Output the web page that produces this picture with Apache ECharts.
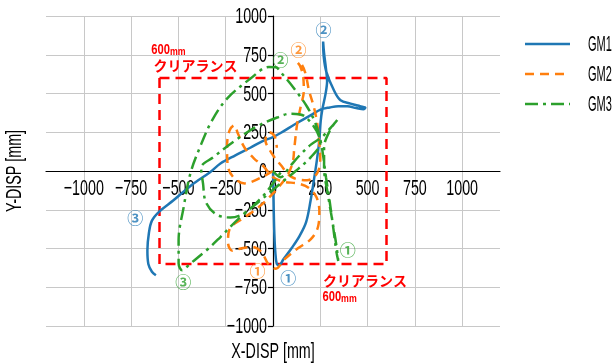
<!DOCTYPE html>
<html>
<head>
<meta charset="utf-8">
<script src="https://cdn.jsdelivr.net/npm/echarts@6/dist/echarts.min.js"></script>
<style>
  html, body { margin: 0; padding: 0; background: #fff; }
  #chart { width: 614px; height: 364px; }
</style>
</head>
<body>
<div id="chart"></div>
<script>
// Orbit of the top displacement under three ground motions, with the 600 mm clearance box.
const seriesNames = ['GM1', 'GM2', 'GM3'];

const gm1X = [0, 2, 4, 7, 12, 20, 32, 55, 100, 140, 175, 199, 216, 232, 245, 252, 260, 278, 286, 280, 270, 265, 268, 282, 322, 357, 410, 460, 488, 478, 440, 393, 345, 300, 251, 200, 120, 40, 0, -60, -120, -199, -278, -331, -430, -526, -600, -640, -656, -664, -659, -640, -619];
const gm1Y = [0, -120, -260, -400, -520, -600, -608, -570, -495, -420, -330, -189, -60, 70, 200, 320, 392, 499, 580, 660, 760, 835, 740, 640, 521, 456, 435, 418, 409, 398, 406, 417, 418, 410, 396, 360, 305, 245, 219, 190, 150, 101, 48, -6, -90, -189, -260, -320, -400, -512, -600, -650, -673];

const gm2X = [0, -60, -150, -210, -240, -243, -230, -205, -185, -150, -100, -50, 0, 60, 130, 190, 230, 245, 238, 200, 130, 60, 15, -25, -60, -110, -170, -215, -238, -228, -150, -75, -20, 31, 80, 105, 112, 128, 146, 163, 158, 142, 130, 150, 172, 190, 216, 234, 243, 250, 235, 180, 100, 40, -10, -40, -20, 10, 20];
const gm2Y = [0, -40, -80, -40, 40, 160, 260, 295, 240, 150, 80, 30, -40, -70, -80, -110, -170, -260, -360, -440, -500, -570, -630, -600, -525, -490, -500, -515, -460, -370, -300, -232, -170, -103, -20, 60, 140, 306, 413, 521, 620, 680, 700, 690, 628, 521, 413, 306, 198, 90, -10, -60, -40, 40, 120, 200, 250, 220, 150];

const gm3X = [0, 40, 90, 140, 200, 260, 320, 340, 300, 270, 270, 290, 315, 335, 345, 335, 320, 300, 280, 265, 251, 225, 181, 119, 40, 15, -22, -119, -243, -322, -384, -437, -472, -499, -499, -480, -437, -350, -278, -172, -66, 30, 120, 200, 250, 172, 93, 22, -90, -208, -314, -380, -370, -355, -300, -225, -150, -60, 0, 40];
const gm3Y = [0, -40, 30, 100, 170, 220, 300, 330, 260, 150, 20, -150, -330, -480, -580, -520, -380, -200, -40, 100, 198, 306, 413, 521, 639, 670, 671, 596, 467, 327, 160, -17, -232, -447, -597, -640, -597, -510, -426, -297, -189, -90, 0, 90, 180, 349, 370, 345, 284, 190, 90, 20, -80, -200, -280, -300, -270, -170, -80, -10];

// Clearance box corners
const boxX = [-600, 600, 600, -600, -600];
const boxY = [600, 600, -600, -600, 600];

// Event markers along each orbit
const markText = ['②', '②', '②', '③', '③', '①', '①', '①'];
const markSeries = [0, 1, 2, 0, 2, 1, 0, 2];
const markX = [267, 135, 40, -728, -474, -82, 80, 395];
const markY = [908, 779, 714, -305, -718, -647, -693, -512];

const xTicks = [-1000, -750, -500, -250, 0, 250, 500, 750, 1000];
const yTicks = [-1000, -750, -500, -250, 0, 250, 500, 750, 1000];

const colors = ['#1f77b4', '#ff7f0e', '#2ca02c'];
const SANS = '"Liberation Sans", Arial, sans-serif';
const CJK = '"Noto Sans CJK JP", "Noto Sans", sans-serif';
const NARROW_SCALE = 0.65;

function pairs(xs, ys) { return xs.map((x, i) => [x, ys[i]]); }
const minus = v => String(v).replace('-', '\u2212');

const lineTypes = ['solid', [9, 6], [13, 5, 3, 5]];
const xs = [gm1X, gm2X, gm3X];
const ys = [gm1Y, gm2Y, gm3Y];

const curveSeries = seriesNames.map((name, i) => ({
  name: name,
  type: 'line',
  data: pairs(xs[i], ys[i]),
  showSymbol: false,
  symbol: 'none',
  smooth: 0.35,
  lineStyle: { color: colors[i], width: 2.5, type: lineTypes[i] },
  itemStyle: { color: colors[i] },
  z: 3 + i,
  animation: false
}));

const option = {
  animation: false,
  grid: { left: 46, top: 16, width: 454, height: 310, containLabel: false, outerBoundsMode: 'none' },
  xAxis: {
    type: 'value', min: -1200, max: 1200,
    axisLine: { onZero: true, lineStyle: { color: '#000', width: 1.2 } },
    axisTick: { show: false, customValues: xTicks },
    axisLabel: { show: false, customValues: xTicks },
    splitLine: { show: true, lineStyle: { color: '#c8c8c8', width: 1 } }
  },
  yAxis: {
    type: 'value', min: -1000, max: 1000, interval: 250,
    axisLine: { onZero: true, lineStyle: { color: '#000', width: 1.2 } },
    axisTick: { show: true, length: 5, lineStyle: { color: '#000', width: 1.2 } },
    axisLabel: { show: false },
    splitLine: { show: true, lineStyle: { color: '#c8c8c8', width: 1 } }
  },
  series: [
    {
      name: 'clearance', type: 'line', data: pairs(boxX, boxY), symbol: 'none',
      lineStyle: { color: '#ff0000', width: 2.5, type: [10, 6] }, z: 2, animation: false, silent: true
    },
    ...curveSeries,
    {
      name: 'markers', type: 'scatter', symbolSize: 0, silent: true, z: 10,
      data: markText.map((t, i) => ({
        value: [markX[i], markY[i]],
        label: { show: true, position: 'inside', formatter: t, color: colors[markSeries[i]], fontFamily: CJK, fontWeight: 'bold', fontSize: 16 }
      }))
    }
  ]
};

const chart = echarts.init(document.getElementById('chart'), null, { renderer: 'canvas' });
chart.setOption(option);

// Condensed tick labels, axis titles, legend and clearance notes
const toPx = (x, y) => chart.convertToPixel({ gridIndex: 0 }, [x, y]);
const narrowText = (text, x, y, align, vAlign, extra) => Object.assign({
  type: 'text', x: x, y: y, scaleX: NARROW_SCALE, silent: true,
  style: { text: text, align: align, verticalAlign: vAlign, font: '22px ' + SANS, fill: '#000' }
}, extra || {});

const g = [];
xTicks.forEach(v => {
  const p = toPx(v, 0);
  g.push(narrowText(minus(v), p[0], p[1] + 7, 'center', 'top'));
});
yTicks.forEach(v => {
  const p = toPx(0, v);
  g.push(narrowText(minus(v), p[0] - 6, p[1] + 1, 'right', 'middle'));
});

// axis titles
const xt = toPx(0, -1000);
g.push(narrowText('X-DISP [mm]', xt[0], 352, 'center', 'middle'));
g.push({
  type: 'text', x: 15, y: (toPx(0, 1000)[1] + toPx(0, -1000)[1]) / 2, rotation: Math.PI / 2,
  scaleX: NARROW_SCALE, silent: true,
  style: { text: 'Y-DISP [mm]', align: 'center', verticalAlign: 'middle', font: '22px ' + SANS, fill: '#000' }
});

// legend
seriesNames.forEach((name, i) => {
  const y = 44 + i * 30;
  g.push({
    type: 'line', silent: true,
    shape: { x1: 525, y1: y, x2: 570, y2: y },
    style: { stroke: colors[i], lineWidth: 2.5, lineDash: lineTypes[i] === 'solid' ? null : lineTypes[i] }
  });
  g.push(narrowText(name, 588, y + 1, 'left', 'middle', { scaleX: 0.5 }));
});

// clearance notes
const note600 = (cx, cy) => ({
  type: 'text', x: cx, y: cy, scaleX: 0.8, silent: true,
  style: {
    text: '{a|600}{b|mm}', align: 'center', verticalAlign: 'middle',
    rich: {
      a: { fill: '#ff0000', font: 'bold 14px ' + SANS },
      b: { fill: '#ff0000', font: 'bold 11px ' + SANS, padding: [3, 0, 0, 0] }
    }
  }
});
const noteKana = (cx, cy) => ({
  type: 'text', x: cx, y: cy, silent: true,
  style: { text: 'クリアランス', align: 'center', verticalAlign: 'middle', font: 'bold 14px ' + CJK, fill: '#ff0000' }
});
let p = toPx(-553, 778); g.push(note600(p[0], p[1]));
p = toPx(-410, 682); g.push(noteKana(p[0], p[1]));
p = toPx(486, -705); g.push(noteKana(p[0], p[1]));
p = toPx(352, -815); g.push(note600(p[0], p[1]));

chart.setOption({ graphic: g });
</script>
</body>
</html>
